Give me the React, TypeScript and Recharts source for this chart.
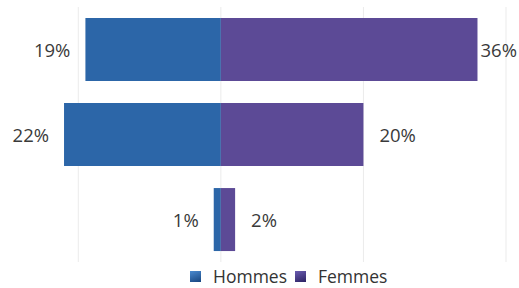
import React from 'react';
import { BarChart, Bar, XAxis, YAxis, CartesianGrid, LabelList } from 'recharts';

const categories = ['Groupe 1', 'Groupe 2', 'Groupe 3'];
const hommes = [0.19, 0.22, 0.01];
const femmes = [0.36, 0.2, 0.02];
const gridTicks = [-0.2, 0, 0.2, 0.4];

// Hommes drawn to the left of the zero line
const data = categories.map((name, i) => ({
  name,
  hommes: -hommes[i],
  femmes: femmes[i],
}));

const BLUE = '#2c66a8';
const PURPLE = '#5c4a96';
const FONT = '"Open Sans", sans-serif';
const CHART_W = 519;

const pct = (v: number) => `${Math.round(Math.abs(v) * 100)}%`;

const LeftLabel = (props: any) => {
  const { x, y, width, height, value } = props;
  const edge = Math.min(x, x + width);
  return (
    <text x={edge - 15} y={y + height / 2} textAnchor="end" dominantBaseline="central"
      fontFamily={FONT} fontSize={18.5} fill="#3a3a3a">
      {pct(value)}
    </text>
  );
};

const RightLabel = (props: any) => {
  const { x, y, width, height, value } = props;
  const edge = Math.max(x, x + width);
  const tooFar = edge + 16 + 40 > CHART_W;
  return (
    <text x={tooFar ? CHART_W - 2 : edge + 16} y={y + height / 2}
      textAnchor={tooFar ? 'end' : 'start'} dominantBaseline="central"
      fontFamily={FONT} fontSize={18.5} fill="#3a3a3a">
      {pct(value)}
    </text>
  );
};

const legendItems = [
  { label: 'Hommes', from: '#4a8ad0', to: '#17457f' },
  { label: 'Femmes', from: '#6a5cb0', to: '#2c2263' },
];

const LegendBox = () => (
  <div style={{
    position: 'absolute', left: 190, top: 267, display: 'flex', alignItems: 'center',
    fontFamily: FONT, fontSize: 17.5, lineHeight: '18px', color: '#333', whiteSpace: 'nowrap',
  }}>
    {legendItems.map((it) => (
      <span key={it.label} style={{ display: 'flex', alignItems: 'center', marginRight: 8 }}>
        <span style={{
          display: 'inline-block', width: 11, height: 11, marginRight: 12,
          background: `linear-gradient(160deg, ${it.from}, ${it.to})`,
        }} />
        {it.label}
      </span>
    ))}
  </div>
);

export default function App() {
  return (
    <div style={{ position: 'absolute', left: 0, top: 0, width: CHART_W, height: 288, background: '#fff' }}>
      <BarChart
        width={CHART_W}
        height={288}
        data={data}
        layout="vertical"
        stackOffset="sign"
        barCategoryGap="13%"
        margin={{ top: 7, right: 13, bottom: 26, left: 7 }}
      >
        <CartesianGrid horizontal={false} verticalValues={gridTicks} stroke="#ebebeb" />
        <XAxis type="number" domain={[-0.3, 0.4]} ticks={gridTicks} hide />
        <YAxis type="category" dataKey="name" hide />
        <Bar dataKey="hommes" stackId="s" fill={BLUE} isAnimationActive={false} name="Hommes">
          <LabelList dataKey="hommes" content={<LeftLabel />} />
        </Bar>
        <Bar dataKey="femmes" stackId="s" fill={PURPLE} isAnimationActive={false} name="Femmes">
          <LabelList dataKey="femmes" content={<RightLabel />} />
        </Bar>
      </BarChart>
      <LegendBox />
    </div>
  );
}
